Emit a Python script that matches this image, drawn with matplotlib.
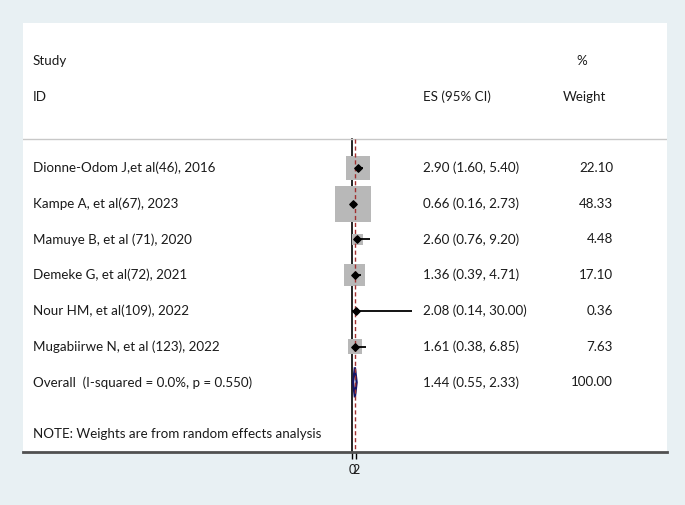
import numpy as np
import matplotlib
matplotlib.use("Agg")
from matplotlib import pyplot as plt
from matplotlib.transforms import blended_transform_factory

plt.rcParams['font.family'] = ['Lato', 'DejaVu Sans']

studies = ["Dionne-Odom J,et al(46), 2016",
           "Kampe A, et al(67), 2023",
           "Mamuye B, et al (71), 2020",
           "Demeke G, et al(72), 2021",
           "Nour HM, et al(109), 2022",
           "Mugabiirwe N, et al (123), 2022"]
es = [2.90, 0.66, 2.60, 1.36, 2.08, 1.61]
lo = [1.60, 0.16, 0.76, 0.39, 0.14, 0.38]
hi = [5.40, 2.73, 9.20, 4.71, 30.00, 6.85]
weights = [22.10, 48.33, 4.48, 17.10, 0.36, 7.63]

overall_label = "Overall  (I-squared = 0.0%, p = 0.550)"
overall_es, overall_lo, overall_hi = 1.44, 0.55, 2.33
note = "NOTE: Weights are from random effects analysis"

fig = plt.figure(figsize=(6.85, 5.05), dpi=100, facecolor='#e8f0f3')
ax = fig.add_axes([23/685, 53/505, 644/685, 429/505])
ax.set_facecolor('white')

# 2 px per unit, zero at x=352 px
ax.set_xlim((23 - 352) / 2, (667 - 352) / 2)
ax.set_ylim(7.95, -4.06)

txt = dict(fontsize=9.6, color='#1a1a1a', va='center')
tr = blended_transform_factory(ax.transAxes, ax.transData)
xs, xe, xw = 10/644, 400/644, 590/644

ax.axhline(-0.8, color='#c8c8c8', lw=1)
ax.plot([0, 0], [-0.8, 7.95], color='black', lw=1.2, zorder=1)
ax.plot([overall_es, overall_es], [-0.8, 7.95], color='#a03030', lw=1,
        ls=(0, (3, 2)), zorder=4)

ax.text(xs, -3, "Study", transform=tr, **txt)
ax.text(xs, -2, "ID", transform=tr, **txt)
ax.text(xe, -2, "ES (95% CI)", transform=tr, **txt)
ax.text(553/644, -3, "%", transform=tr, **txt)
ax.text(540/644, -2, "Weight", transform=tr, **txt)

rows = np.arange(len(studies))
side = 36 * np.sqrt(np.array(weights) / max(weights)) * 0.72
ax.scatter(es, rows, marker='s', s=side**2, color='#b8b8b8', zorder=2,
           linewidths=0)
ax.hlines(rows, lo, hi, color='black', lw=1.3, zorder=3)
ax.scatter(es, rows, marker='D', s=14, color='black', zorder=5)

for i in rows:
    ax.text(xs, i, studies[i], transform=tr, **txt)
    ax.text(xe, i, "%.2f (%.2f, %.2f)" % (es[i], lo[i], hi[i]),
            transform=tr, **txt)
    ax.text(xw, i, "%.2f" % weights[i], transform=tr, ha='right', **txt)

yo = len(studies)
ax.fill([overall_lo, overall_es, overall_hi, overall_es],
        [yo, yo - 0.42, yo, yo + 0.42], facecolor='white',
        edgecolor='#141466', lw=1.6, zorder=3)
ax.text(xs, yo, overall_label, transform=tr, **txt)
ax.text(xe, yo, "%.2f (%.2f, %.2f)" % (overall_es, overall_lo, overall_hi),
        transform=tr, **txt)
ax.text(xw, yo, "100.00", transform=tr, ha='right', **txt)
ax.text(xs, 7.45, note, transform=tr, **txt)

for s in ['top', 'left', 'right']:
    ax.spines[s].set_visible(False)
ax.spines['bottom'].set_color('#505050')
ax.spines['bottom'].set_linewidth(2)
ax.set_yticks([])
ax.set_xticks([0, 2])
ax.tick_params(axis='x', length=5, width=1, color='black', labelsize=9,
               pad=4, labelcolor='#1a1a1a')

fig.savefig("out.png", dpi=100, facecolor=fig.get_facecolor())
